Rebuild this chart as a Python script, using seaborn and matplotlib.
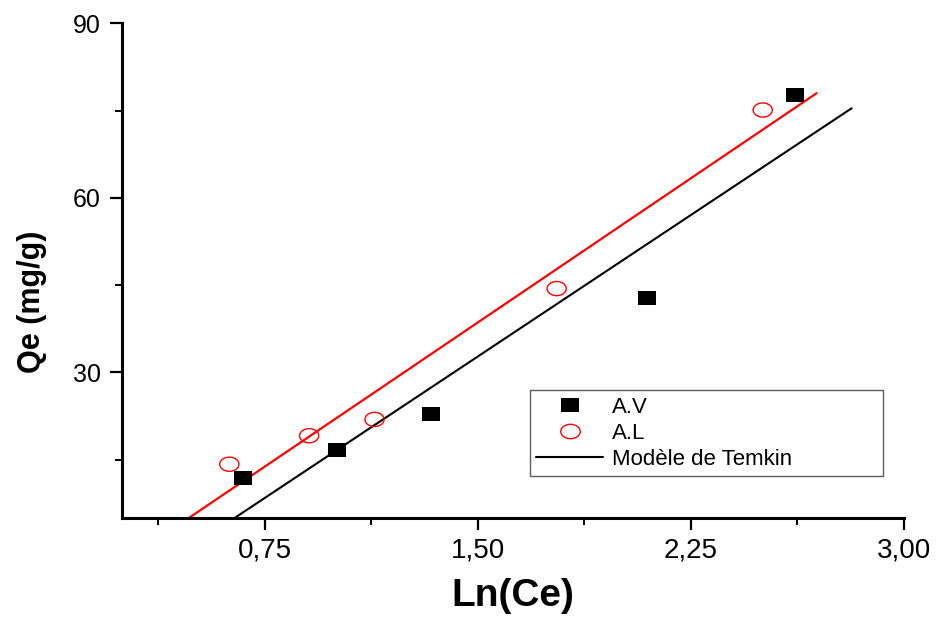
import numpy as np
import pandas as pd
import matplotlib
matplotlib.use("Agg")
import matplotlib.pyplot as plt
from matplotlib.ticker import MultipleLocator, FuncFormatter
from matplotlib.lines import Line2D
import seaborn as sns

# ---- data ----
av_x = [0.674, 1.005, 1.336, 2.096, 2.617]
av_y = [11.9, 16.7, 22.9, 42.8, 77.7]
al_x = [0.626, 0.907, 1.137, 1.778, 2.503]
al_y = [14.2, 19.1, 21.9, 44.4, 75.1]
temkin_av_x = [0.646, 2.816]
temkin_av_y = [5.0, 75.4]
temkin_al_x = [0.485, 2.693]
temkin_al_y = [5.0, 78.0]
legend_labels = ["A.V", "A.L", "Modèle de Temkin"]
x_label = "Ln(Ce)"
y_label = "Qe (mg/g)"

sns.set_theme(style="ticks")
plt.rcParams["font.family"] = ["Liberation Sans", "DejaVu Sans"]
plt.rcParams["text.color"] = "black"
plt.rcParams["axes.labelcolor"] = "black"
plt.rcParams["xtick.color"] = "black"
plt.rcParams["ytick.color"] = "black"

fig = plt.figure(figsize=(9.42, 6.21), dpi=100)
ax = fig.add_axes([0.130, 0.1663, 0.8296, 0.7961])

# custom flattened markers (the original is horizontally stretched)
t = np.linspace(0, 2 * np.pi, 73)
ellipse = np.column_stack([np.cos(t), 0.74 * np.sin(t)])
rect = np.array([[-1, -0.77], [1, -0.77], [1, 0.77], [-1, 0.77], [-1, -0.77]])

df_av = pd.DataFrame({"x": av_x, "y": av_y})
df_al = pd.DataFrame({"x": al_x, "y": al_y})
df_tav = pd.DataFrame({"x": temkin_av_x, "y": temkin_av_y})
df_tal = pd.DataFrame({"x": temkin_al_x, "y": temkin_al_y})

sns.lineplot(data=df_tav, x="x", y="y", color="black", linewidth=1.5, ax=ax, zorder=2)
sns.lineplot(data=df_tal, x="x", y="y", color="#ff0000", linewidth=1.6, ax=ax, zorder=2)
sns.scatterplot(data=df_av, x="x", y="y", marker=rect, s=175, color="black",
                edgecolor="black", linewidth=0, ax=ax, zorder=3)
sns.scatterplot(data=df_al, x="x", y="y", marker=ellipse, s=190, color="#ff0000",
                facecolor="none", edgecolor="#ff0000", linewidth=1.0, ax=ax, zorder=3)

ax.set_xlim(0.25, 3.0)
ax.set_ylim(5, 90)
ax.xaxis.set_major_locator(MultipleLocator(0.75))
ax.xaxis.set_minor_locator(MultipleLocator(0.375))
ax.yaxis.set_major_locator(MultipleLocator(30))
ax.yaxis.set_minor_locator(MultipleLocator(15))
ax.xaxis.set_major_formatter(FuncFormatter(lambda v, p: f"{v:.2f}".replace(".", ",")))
ax.yaxis.set_major_formatter(FuncFormatter(lambda v, p: f"{v:.0f}"))

for side in ["top", "right"]:
    ax.spines[side].set_visible(False)
for side in ["left", "bottom"]:
    ax.spines[side].set_linewidth(2.2)
    ax.spines[side].set_color("black")

ax.tick_params(which="major", direction="out", length=8.5, width=1.6, color="black")
ax.tick_params(which="minor", direction="out", length=5, width=1.4, color="black")
ax.tick_params(axis="y", which="major", labelsize=18, pad=7, labelcolor="black")
ax.tick_params(axis="x", which="major", labelsize=20, pad=6, labelcolor="black")

ax.set_xlabel(x_label, fontsize=28, fontweight="bold", va="top", color="black")
ax.set_ylabel(y_label, fontsize=22, fontweight="bold", color="black")
ax.xaxis.set_label_coords(0.5, -0.122)
ax.yaxis.set_label_coords(-0.097, 0.436)

handles = [
    Line2D([], [], linestyle="none", marker=rect, markersize=13, color="black",
           markeredgewidth=0),
    Line2D([], [], linestyle="none", marker=ellipse, markersize=14,
           markerfacecolor="none", markeredgecolor="#ff0000", markeredgewidth=1.0),
    Line2D([], [], color="black", linewidth=1.5),
]
leg = ax.legend(handles, legend_labels, loc="lower left",
                bbox_to_anchor=(0.521, 0.084, 0.452, 0.184), mode="expand",
                fontsize=16, frameon=True, fancybox=False, borderpad=0.3,
                labelspacing=0.22, handlelength=3.0, handletextpad=0.4,
                borderaxespad=0)
leg.get_frame().set_edgecolor("#333333")
leg.get_frame().set_linewidth(1.0)
for txt in leg.get_texts():
    txt.set_color("black")

fig.savefig("out.png", dpi=100, facecolor="white")
